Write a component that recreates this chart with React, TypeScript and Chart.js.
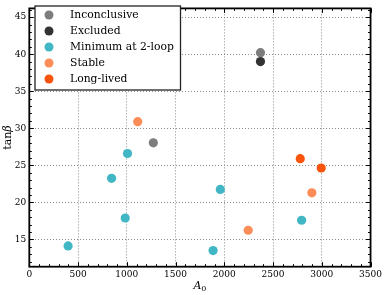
import { useEffect, useRef } from "react";
import { Chart, registerables } from "chart.js";
Chart.register(...registerables);

const seriesLabels = ["Inconclusive", "Excluded", "Minimum at 2-loop", "Stable", "Long-lived"];
const seriesColors = ["#7d7d7d", "#333333", "#41b6c4", "#fc8d59", "#f8540c"];

const inconclusiveA0 = [2371, 1272];
const inconclusiveTanB = [40.2, 28.05];
const excludedA0 = [2371];
const excludedTanB = [39.0];
const minimumA0 = [1007, 844, 984, 398, 1959, 1885, 2793];
const minimumTanB = [26.6, 23.25, 17.9, 14.13, 21.75, 13.5, 17.6];
const stableA0 = [1112, 2245, 2898];
const stableTanB = [30.9, 16.25, 21.3];
const longLivedA0 = [2779, 2994];
const longLivedTanB = [25.9, 24.65];

const xTicks = [0, 500, 1000, 1500, 2000, 2500, 3000, 3500];
const yTicks = [15, 20, 25, 30, 35, 40, 45];

const FONT = "'DejaVu Serif', serif";

function pts(xs: number[], ys: number[]) {
  return xs.map((x, i) => ({ x, y: ys[i] }));
}

const framePlugin = {
  id: "frame",
  afterDraw(chart: any) {
    const ctx = chart.ctx;
    const { left, right, top, bottom } = chart.chartArea;
    const xs = chart.scales.x;
    const ys = chart.scales.y;
    ctx.save();
    ctx.strokeStyle = "#000";
    ctx.lineWidth = 1;
    for (let v = 0; v <= 3500; v += 100) {
      const px = Math.round(xs.getPixelForValue(v)) + 0.5;
      const len = v % 500 === 0 ? 4.5 : 2.5;
      ctx.beginPath();
      ctx.moveTo(px, bottom);
      ctx.lineTo(px, bottom - len);
      ctx.moveTo(px, top);
      ctx.lineTo(px, top + len);
      ctx.stroke();
    }
    for (let v = 12; v <= 46; v += 1) {
      const py = Math.round(ys.getPixelForValue(v)) + 0.5;
      const len = v % 5 === 0 ? 4.5 : 2.5;
      ctx.beginPath();
      ctx.moveTo(left, py);
      ctx.lineTo(left + len, py);
      ctx.moveTo(right, py);
      ctx.lineTo(right - len, py);
      ctx.stroke();
    }
    ctx.lineWidth = 1.8;
    ctx.strokeRect(left, top, right - left, bottom - top);

    ctx.fillStyle = "#000";
    ctx.textBaseline = "middle";
    const cx = (left + right) / 2;
    ctx.font = `italic 11px ${FONT}`;
    const aW = ctx.measureText("A").width;
    ctx.font = `8px ${FONT}`;
    const zW = ctx.measureText("0").width;
    const startX = cx - (aW + zW) / 2;
    ctx.font = `italic 11px ${FONT}`;
    ctx.textAlign = "left";
    ctx.fillText("A", startX, 286);
    ctx.font = `8px ${FONT}`;
    ctx.fillText("0", startX + aW, 289);

    const cy = (top + bottom) / 2;
    ctx.translate(8, cy);
    ctx.rotate(-Math.PI / 2);
    ctx.font = `11px ${FONT}`;
    const tW = ctx.measureText("tan").width;
    ctx.font = `italic 11px ${FONT}`;
    const bW = ctx.measureText("β").width;
    const sx = -(tW + bW) / 2;
    ctx.font = `11px ${FONT}`;
    ctx.fillText("tan", sx, 0);
    ctx.font = `italic 11px ${FONT}`;
    ctx.fillText("β", sx + tW, 0);
    ctx.restore();

    ctx.save();
    const lx = 35, ly = 6, lw = 145.5, lh = 84;
    ctx.fillStyle = "#fff";
    ctx.fillRect(lx, ly, lw, lh);
    ctx.strokeStyle = "#222";
    ctx.lineWidth = 1.3;
    ctx.strokeRect(lx, ly, lw, lh);
    ctx.font = `10.8px ${FONT}`;
    ctx.textBaseline = "middle";
    ctx.textAlign = "left";
    chart.data.datasets.forEach((ds: any, i: number) => {
      const yy = 15 + i * 16;
      ctx.beginPath();
      ctx.fillStyle = ds.backgroundColor;
      ctx.arc(49, yy, 4.5, 0, Math.PI * 2);
      ctx.fill();
      ctx.fillStyle = "#000";
      ctx.fillText(ds.label, 70, yy + 0.5);
    });
    ctx.restore();
  },
};

export default function App() {
  const ref = useRef<HTMLCanvasElement | null>(null);
  useEffect(() => {
    document.body.style.margin = "0";
    const canvas = ref.current!;
    const series = [
      pts(inconclusiveA0, inconclusiveTanB),
      pts(excludedA0, excludedTanB),
      pts(minimumA0, minimumTanB),
      pts(stableA0, stableTanB),
      pts(longLivedA0, longLivedTanB),
    ];
    const gridOpts = { color: "#8a8a8a", lineWidth: 1, drawTicks: false, borderDash: [1, 2] };
    const chart = new Chart(canvas, {
      type: "scatter",
      data: {
        datasets: series.map((d, i) => ({
          label: seriesLabels[i],
          data: d,
          backgroundColor: seriesColors[i],
          borderWidth: 0,
          pointRadius: 4.6,
        })),
      },
      options: {
        animation: false,
        responsive: false,
        devicePixelRatio: 1,
        layout: { padding: { top: 1, right: 12.5, left: 0, bottom: 0 } },
        plugins: { legend: { display: false }, tooltip: { enabled: false } },
        scales: {
          x: {
            type: "linear",
            min: 0,
            max: 3500,
            afterBuildTicks: (s: any) => {
              s.ticks = xTicks.map((v) => ({ value: v }));
            },
            afterFit: (s: any) => {
              s.height = 28.3;
            },
            grid: gridOpts,
            border: { display: false, dash: [1, 2] },
            ticks: {
              font: { family: FONT, size: 9 },
              color: "#000",
              padding: 3,
              maxRotation: 0,
              callback: (v: any) => String(v),
            },
          },
          y: {
            type: "linear",
            min: 11.33,
            max: 46.18,
            afterBuildTicks: (s: any) => {
              s.ticks = yTicks.map((v) => ({ value: v }));
            },
            afterFit: (s: any) => {
              s.width = 29.3;
            },
            grid: gridOpts,
            border: { display: false, dash: [1, 2] },
            ticks: {
              font: { family: FONT, size: 9 },
              color: "#000",
              padding: 3,
              callback: (v: any) => String(v),
            },
          },
        },
      },
      plugins: [framePlugin],
    } as any);
    return () => chart.destroy();
  }, []);
  return <canvas ref={ref} width={385} height={295} style={{ display: "block" }} />;
}
